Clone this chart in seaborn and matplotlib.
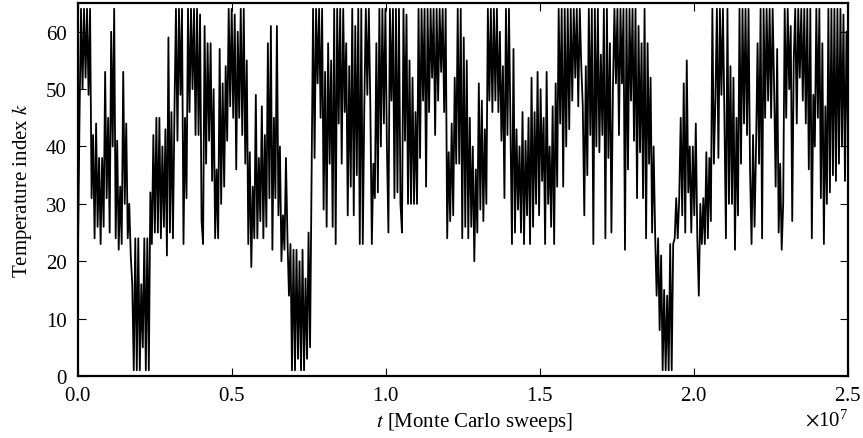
import numpy as np
import pandas as pd
import matplotlib
matplotlib.use("Agg")
import matplotlib.pyplot as plt
import seaborn as sns
from matplotlib.ticker import ScalarFormatter

# Temperature index k along the run in 8 consecutive pieces
k_part1 = [22, 45, 64, 50, 64, 52, 64, 49,
           64, 31, 42, 24, 44, 26, 38, 23,
           38, 26, 53, 31, 45, 25, 60, 40,
           64, 24, 41, 22, 33, 23, 53, 30,
           44, 24, 30, 21, 16, 1, 24, 1,
           24, 1, 16, 5, 24, 1, 24, 1,
           32, 23, 42, 25, 45, 25, 45, 24,
           40, 26, 43, 21, 59, 25, 46, 24]
k_part2 = [46, 64, 41, 64, 49, 64, 23, 45,
           31, 64, 46, 64, 50, 64, 42, 64,
           42, 63, 27, 23, 61, 37, 58, 41,
           58, 34, 50, 24, 36, 24, 57, 30,
           51, 33, 54, 41, 64, 47, 64, 45,
           63, 36, 60, 45, 64, 42, 64, 37,
           55, 23, 39, 19, 33, 24, 49, 24,
           38, 27, 47, 24, 42, 26, 58, 31]
k_part3 = [61, 22, 45, 31, 61, 28, 40, 20,
           28, 22, 38, 24, 14, 23, 1, 22,
           1, 22, 3, 20, 1, 22, 1, 17,
           3, 25, 5, 34, 64, 38, 64, 51,
           64, 45, 64, 29, 53, 26, 58, 37,
           55, 26, 64, 23, 64, 44, 64, 37,
           64, 46, 58, 28, 54, 33, 64, 28,
           61, 35, 64, 23, 64, 23, 47, 64]
k_part4 = [49, 64, 47, 23, 37, 31, 58, 32,
           64, 40, 64, 44, 64, 40, 25, 64,
           48, 64, 31, 64, 32, 64, 30, 25,
           64, 41, 63, 30, 55, 30, 52, 30,
           46, 30, 64, 38, 64, 48, 64, 33,
           64, 46, 64, 52, 64, 42, 64, 48,
           64, 53, 64, 46, 64, 24, 39, 27,
           44, 28, 52, 37, 64, 37, 64, 24]
k_part5 = [59, 26, 55, 24, 45, 26, 40, 20,
           36, 25, 51, 29, 48, 27, 43, 30,
           64, 48, 64, 46, 64, 48, 64, 46,
           60, 41, 54, 31, 64, 42, 64, 44,
           23, 57, 25, 43, 29, 40, 25, 46,
           23, 41, 28, 45, 23, 52, 26, 46,
           30, 53, 28, 50, 34, 45, 23, 53,
           30, 40, 26, 47, 23, 51, 33, 64]
k_part6 = [44, 64, 33, 64, 40, 64, 43, 64,
           48, 64, 52, 64, 47, 64, 54, 47,
           28, 54, 35, 64, 42, 64, 23, 64,
           40, 64, 39, 56, 42, 64, 24, 64,
           38, 58, 25, 50, 64, 51, 64, 42,
           64, 51, 64, 22, 64, 36, 64, 48,
           64, 41, 64, 31, 61, 39, 58, 31,
           64, 24, 58, 37, 52, 25, 40, 25]
k_part7 = [14, 24, 8, 21, 1, 15, 1, 14,
           1, 23, 1, 23, 24, 31, 24, 31,
           45, 28, 51, 25, 55, 32, 40, 25,
           40, 28, 44, 24, 14, 30, 23, 31,
           23, 39, 24, 38, 27, 64, 37, 48,
           64, 38, 64, 49, 64, 45, 24, 64,
           30, 54, 30, 52, 22, 45, 28, 64,
           37, 64, 44, 64, 42, 64, 36, 23]
k_part8 = [42, 26, 40, 58, 37, 64, 24, 64,
           45, 64, 48, 64, 45, 64, 50, 33,
           57, 25, 37, 22, 30, 64, 45, 64,
           50, 61, 27, 55, 64, 44, 64, 52,
           64, 48, 64, 44, 64, 36, 64, 24,
           49, 40, 64, 45, 64, 31, 58, 23,
           47, 30, 64, 32, 64, 35, 64, 34,
           64, 37, 64, 40, 63, 34, 60, 42]

t_max = 2.5e7
x_ticks = [0.0, 0.5e7, 1.0e7, 1.5e7, 2.0e7, 2.5e7]
y_ticks = [0, 10, 20, 30, 40, 50, 60]

k = np.concatenate([k_part1, k_part2, k_part3, k_part4,
                    k_part5, k_part6, k_part7, k_part8]).astype(float)
t = np.linspace(0.0, t_max, len(k))
df = pd.DataFrame({"t": t, "k": k})

sns.set_style("ticks")
plt.rcParams.update({
    "font.family": ["Liberation Serif", "DejaVu Serif"],
    "mathtext.fontset": "stix",
    "text.color": "black",
    "axes.labelcolor": "black",
    "xtick.labelcolor": "black",
    "ytick.labelcolor": "black",
    "xtick.direction": "in",
    "ytick.direction": "in",
    "xtick.top": True,
    "ytick.right": True,
    "xtick.major.size": 6,
    "ytick.major.size": 6,
    "xtick.major.width": 0.8,
    "ytick.major.width": 0.8,
    "axes.linewidth": 1.6,
    "axes.edgecolor": "black",
    "xtick.color": "black",
    "ytick.color": "black",
})

fig = plt.figure(figsize=(8.63, 4.39), dpi=100)
ax = fig.add_axes([0.0904, 0.1412, 0.8922, 0.8496])
sns.lineplot(data=df, x="t", y="k", ax=ax, color="black", linewidth=1.3,
             estimator=None, sort=False)

ax.set_xlim(0, t_max)
ax.set_ylim(0, 65)
ax.set_xticks(x_ticks)
ax.set_yticks(y_ticks)
fmt = ScalarFormatter(useMathText=True)
fmt.set_powerlimits((0, 0))
ax.xaxis.set_major_formatter(fmt)
ax.xaxis.get_offset_text().set_fontsize(15)
ax.xaxis.get_offset_text().set_color("black")
ax.tick_params(axis="x", labelsize=15, pad=7)
ax.tick_params(axis="y", labelsize=15, pad=8)
ax.set_xlabel("$t$ [Monte Carlo sweeps]", fontsize=15, labelpad=5)
ax.set_ylabel("Temperature index $k$", fontsize=15, labelpad=9)
ax.xaxis.set_label_coords(0.515, -0.09)

fig.savefig("out.png", dpi=100, facecolor="white")
